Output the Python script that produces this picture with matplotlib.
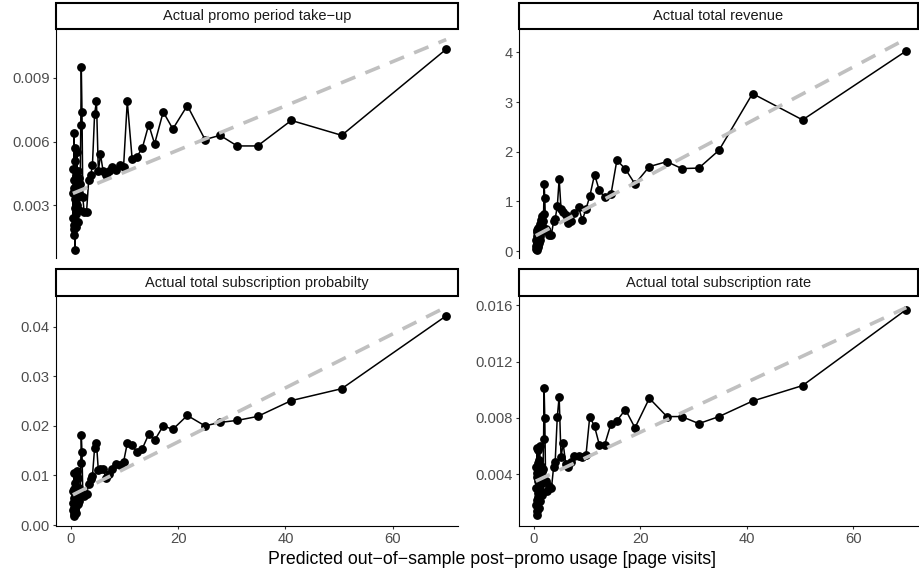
import numpy as np
import matplotlib
matplotlib.use("Agg")
import matplotlib.pyplot as plt
from matplotlib.patches import Rectangle

plt.rcParams["font.family"] = ["Liberation Sans", "DejaVu Sans"]

# ---- data -------------------------------------------------------------
# predicted post-promo usage (x), shared by all four panels
visits = [0.35, 0.40, 0.45, 0.49, 0.53, 0.56, 0.59, 0.62, 0.65, 0.68, 0.71,
          0.74, 0.77, 0.80, 0.83, 0.86, 0.90, 0.94, 0.98, 1.02, 1.07, 1.12,
          1.18, 1.24, 1.30, 1.37, 1.45, 1.53, 1.62, 1.72, 1.82, 1.92, 2.05,
          2.20, 2.45, 2.90, 3.30, 3.70, 4.00, 4.40, 4.75, 5.10, 5.50, 6.00,
          6.50, 7.00, 7.60, 8.40, 9.10, 9.80, 10.5, 11.4, 12.3, 13.3, 14.5,
          15.6, 17.2, 19.0, 21.7, 25.0, 27.8, 31.0, 34.8, 41.1, 50.5, 70.0]

takeup = [0.0036, 0.0024, 0.0047, 0.0021, 0.0038, 0.0064, 0.0019, 0.0042,
          0.0016, 0.0033, 0.0009, 0.0029, 0.0051, 0.0023, 0.0057, 0.0031,
          0.0044, 0.0020, 0.0037, 0.0026, 0.0055, 0.0030, 0.0041, 0.0022,
          0.0046, 0.0034, 0.0028, 0.0043, 0.0035, 0.0040, 0.0068, 0.0095,
          0.0074, 0.0034, 0.0027, 0.0027, 0.0042, 0.00445, 0.0049, 0.0073,
          0.0079, 0.0046, 0.0054, 0.0046, 0.00445, 0.0046, 0.0048, 0.00465,
          0.0049, 0.0048, 0.0079, 0.0052, 0.0053, 0.0057, 0.0068, 0.0059,
          0.0074, 0.0066, 0.0077, 0.0061, 0.0063, 0.0058, 0.0058, 0.0070,
          0.0063, 0.01035]

revenue = [0.05, 0.22, 0.10, 0.38, 0.15, 0.30, 0.03, 0.42, 0.18, 0.26, 0.08,
           0.35, 0.20, 0.47, 0.12, 0.28, 0.40, 0.17, 0.33, 0.24, 0.55, 0.30,
           0.45, 0.22, 0.63, 0.38, 0.50, 0.70, 0.42, 0.60, 0.75, 1.35, 1.07,
           0.45, 0.40, 0.33, 0.33, 0.60, 0.65, 0.90, 1.45, 0.85, 0.78, 0.73,
           0.57, 0.60, 0.77, 0.88, 0.62, 0.85, 1.10, 1.54, 1.22, 1.08, 1.15,
           1.83, 1.65, 1.35, 1.70, 1.80, 1.66, 1.67, 2.03, 3.17, 2.64, 4.03]

sub_prob = [0.0045, 0.0030, 0.0068, 0.0022, 0.0055, 0.0104, 0.0035, 0.0072,
            0.0018, 0.0050, 0.0028, 0.0062, 0.0040, 0.0085, 0.0033, 0.0058,
            0.0047, 0.0025, 0.0070, 0.0038, 0.0108, 0.0052, 0.0064, 0.0042,
            0.0095, 0.0057, 0.0048, 0.0075, 0.0060, 0.0068, 0.0125, 0.0182,
            0.0147, 0.0062, 0.0058, 0.0062, 0.0083, 0.0092, 0.0099, 0.0155,
            0.0165, 0.0110, 0.0114, 0.0113, 0.0095, 0.0102, 0.0113, 0.0123,
            0.0121, 0.0127, 0.0165, 0.0161, 0.0147, 0.0154, 0.0183, 0.0171,
            0.0200, 0.0193, 0.0221, 0.0200, 0.0207, 0.0211, 0.0219, 0.0251,
            0.0275, 0.0422]

sub_rate = [0.0030, 0.0018, 0.0045, 0.0022, 0.0038, 0.0059, 0.0014, 0.0041,
            0.0011, 0.0027, 0.0048, 0.0020, 0.0035, 0.0057, 0.0024, 0.0043,
            0.0016, 0.0032, 0.0050, 0.0026, 0.0060, 0.0029, 0.0039, 0.0021,
            0.0046, 0.0033, 0.0025, 0.0042, 0.0036, 0.0044, 0.0065, 0.0101,
            0.0080, 0.0035, 0.0028, 0.0032, 0.0030, 0.0045, 0.0049, 0.0081,
            0.0095, 0.0052, 0.0062, 0.0047, 0.0045, 0.0049, 0.0053, 0.0053,
            0.0052, 0.0054, 0.0081, 0.0074, 0.0061, 0.0061, 0.0076, 0.0078,
            0.0086, 0.0073, 0.0094, 0.0081, 0.0081, 0.0076, 0.0081, 0.0092,
            0.0103, 0.0157]

# linear reference line (intercept, slope) per panel
fit_takeup = (0.00353, 0.0001039)
fit_revenue = (0.29, 0.0569)
fit_sub_prob = (0.0059, 0.000544)
fit_sub_rate = (0.00345, 0.000177)

titles = ["Actual promo period take\u2212up", "Actual total revenue",
          "Actual total subscription probabilty", "Actual total subscription rate"]
yticks = [[0.003, 0.006, 0.009], [0, 1, 2, 3, 4],
          [0.00, 0.01, 0.02, 0.03, 0.04], [0.004, 0.008, 0.012, 0.016]]
ylabels = [["0.003", "0.006", "0.009"], ["0", "1", "2", "3", "4"],
           ["0.00", "0.01", "0.02", "0.03", "0.04"],
           ["0.004", "0.008", "0.012", "0.016"]]
ylims = [(0.00053, 0.0113), (-0.14, 4.47), (-0.0002, 0.0462), (0.00033, 0.01666)]
xticks = [0, 20, 40, 60]
XLIM = (-2.8, 72.2)

# ---- layout (figure fractions, from pixel positions) ------------------
W, H = 919, 575
cols = [(56, 458), (519, 918)]
rows = [(29, 258, 3), (296, 526, 269)]   # panel top, panel bottom, strip top


def frac_box(x0, x1, y0, y1):
    return [x0 / W, 1 - y1 / H, (x1 - x0) / W, (y1 - y0) / H]


def draw_panel(fig, idx, yvals, fit):
    r, c = divmod(idx, 2)
    x0, x1 = cols[c]
    top, bot, stop = rows[r]
    ax = fig.add_axes(frac_box(x0, x1, top, bot))
    x = np.array(visits)
    ax.plot(x, yvals, color="black", lw=1.1, marker="o", ms=5.3, zorder=2)
    xx = np.array([x.min(), x.max()])
    ax.plot(xx, fit[0] + fit[1] * xx, color="#c0c0c0", lw=2.6,
            dashes=(4.3, 3.0), dash_capstyle="butt", zorder=3)
    ax.set_xlim(*XLIM)
    ax.set_ylim(*ylims[idx])
    ax.set_yticks(yticks[idx])
    ax.set_yticklabels(ylabels[idx])
    for s in ("top", "right"):
        ax.spines[s].set_visible(False)
    ax.spines["left"].set_linewidth(0.8)
    ax.spines["bottom"].set_linewidth(0.8)
    ax.tick_params(length=2.5, width=0.8, color="#333333", labelcolor="#4d4d4d",
                   labelsize=10.6, pad=2)
    if r == 0:
        ax.spines["bottom"].set_visible(False)
        ax.set_xticks([])
    else:
        ax.set_xticks(xticks)
        ax.set_xticklabels([str(t) for t in xticks])

    # facet strip
    sax = fig.add_axes(frac_box(x0, x1, stop, top))
    sax.set_xlim(0, 1)
    sax.set_ylim(0, 1)
    sax.axis("off")
    sax.add_patch(Rectangle((0, 0), 1, 1, transform=sax.transAxes, fill=False,
                            ec="black", lw=1.5, clip_on=False))
    sax.text(0.5, 0.5, titles[idx], ha="center", va="center", fontsize=10.5,
             color="#1a1a1a")
    return ax


def main():
    fig = plt.figure(figsize=(W / 100, H / 100), dpi=100)
    series = [(takeup, fit_takeup), (revenue, fit_revenue),
              (sub_prob, fit_sub_prob), (sub_rate, fit_sub_rate)]
    for i, (yv, fit) in enumerate(series):
        draw_panel(fig, i, yv, fit)
    fig.text(492 / W, 1 - 560 / H,
             "Predicted out\u2212of\u2212sample post\u2212promo usage [page visits]",
             ha="center", va="center", fontsize=12.8, color="black")
    fig.savefig("out.png", dpi=100)


if __name__ == "__main__":
    main()
